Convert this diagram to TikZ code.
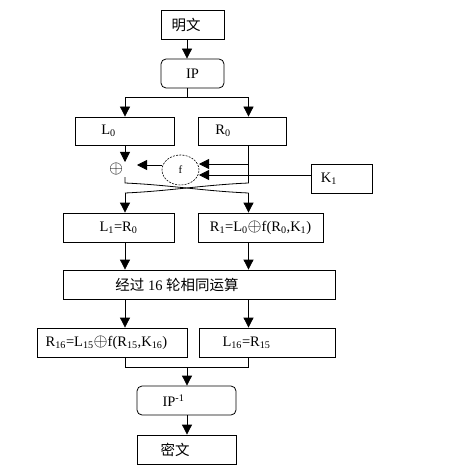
\documentclass[tikz,border=0pt]{standalone}
\usepackage{fontspec}
\setmainfont{Liberation Serif}
\newfontfamily\cjk{Noto Sans CJK SC}
\usetikzlibrary{arrows.meta,shapes.geometric}
\newcommand{\xo}{\raisebox{-0.5pt}{\scalebox{1.25}{$\oplus$}}}
\begin{document}
\begin{tikzpicture}[x=1pt,y=-1pt,
  line width=0.8pt,
  every node/.style={font=\fontsize{14.5}{16}\selectfont},
  box/.style={draw,rectangle,inner sep=0pt},
  rbox/.style={draw,rectangle,rounded corners=5pt,inner sep=0pt},
  arr/.style={-{Triangle[width=10pt,length=10pt]}}]
\useasboundingbox (0,0) rectangle (450,473);
\fill[white] (0,0) rectangle (450,473);
% columns
\coordinate (xl) at (125,0);
\coordinate (xr) at (248.5,0);
\coordinate (xm) at (187,0);
% boxes
\node[box,minimum width=63pt,minimum height=29pt] (mw) at (192.5,24.5) {{\cjk 明文}\hspace*{13pt}};
\node[rbox,minimum width=63pt,minimum height=29pt] (ip) at (192.5,73.5) {IP};
\node[box,minimum width=99pt,minimum height=28pt] (L0) at (124.5,131) {L\textsubscript{0}\hspace*{32pt}};
\node[box,minimum width=88pt,minimum height=28pt] (R0) at (242,131) {R\textsubscript{0}\hspace*{38pt}};
\node[box,minimum width=61pt,minimum height=29pt] (K1) at (341.5,178.5) {K\textsubscript{1}\hspace*{25pt}};
\node[draw,ellipse,dash pattern=on 2pt off 1.2pt,line width=0.6pt,minimum width=37pt,minimum height=30pt,inner sep=0pt,font=\fontsize{11}{13}\selectfont] (f) at (180.5,170) {f};
\node[inner sep=0pt] (xor) at (116,169) {\xo};
\node[box,minimum width=111pt,minimum height=29pt] (L1) at (118.5,227.5) {L\textsubscript{1}=R\textsubscript{0}};
\node[box,minimum width=125pt,minimum height=29pt] (R1) at (260.5,227.5) {R\textsubscript{1}=L\textsubscript{0}\xo f(R\textsubscript{0},K\textsubscript{1})};
\node[box,minimum width=272pt,minimum height=29pt] (big) at (199,284.5) {{\cjk 经过} 16 {\cjk 轮相同运算}\hspace*{44pt}};
\node[box,minimum width=150pt,minimum height=29pt] (R16) at (112,342.5) {R\textsubscript{16}=L\textsubscript{15}\xo f(R\textsubscript{15},K\textsubscript{16})\hspace*{11pt}};
\node[box,minimum width=136pt,minimum height=29pt] (L16) at (267,342.5) {L\textsubscript{16}=R\textsubscript{15}\hspace*{41pt}};
\node[rbox,minimum width=99pt,minimum height=29pt] (ipi) at (186.5,400.5) {IP\textsuperscript{-1}\hspace*{26pt}};
\node[box,minimum width=99pt,minimum height=29pt] (mi) at (186.5,449.5) {{\cjk 密文}\hspace*{23pt}};
% helper coordinates
\coordinate (sp) at (187,97);
\coordinate (xtip) at (125,162);
\coordinate (lA) at (125,177);
\coordinate (lB) at (125,183);
\coordinate (rB) at (248.5,183);
\coordinate (lC) at (125,193);
\coordinate (rC) at (248.5,193);
\coordinate (fin1) at (199,164);
\coordinate (fin2) at (199,175);
\coordinate (fout) at (162,165);
\coordinate (ftip) at (137,165);
\coordinate (jn) at (187,367);
\coordinate (jl) at (125,367);
\coordinate (jr) at (248.5,367);
% connectors
\draw[arr] (mw.south -| xm) -- (ip.north -| xm);
\draw (ip.south -| xm) -- (sp);
\draw[arr] (sp) -| (L0.north -| xl);
\draw[arr] (sp) -| (R0.north -| xr);
\draw[arr] (L0.south -| xl) -- (xtip);
\draw (lA) -- (lB) .. controls (170,185) and (203,191) .. (rC);
\draw (R0.south -| xr) -- (rB) .. controls (203,185) and (170,191) .. (lC);
\draw[arr] (rC) -- (R1.north -| xr);
\draw[arr] (lC) -- (L1.north -| xl);
\draw[arr] (fin1 -| xr) -- (fin1);
\draw[arr] (K1.west |- fin2) -- (fin2);
\draw[arr] (fout) -- (ftip);
\draw[arr] (L1.south -| xl) -- (big.north -| xl);
\draw[arr] (R1.south -| xr) -- (big.north -| xr);
\draw[arr] (big.south -| xl) -- (R16.north -| xl);
\draw[arr] (big.south -| xr) -- (L16.north -| xr);
\draw (R16.south -| xl) -- (jl) -- (jr) -- (L16.south -| xr);
\draw[arr] (jn) -- (ipi.north -| xm);
\draw[arr] (ipi.south -| xm) -- (mi.north -| xm);
\end{tikzpicture}
\end{document}
